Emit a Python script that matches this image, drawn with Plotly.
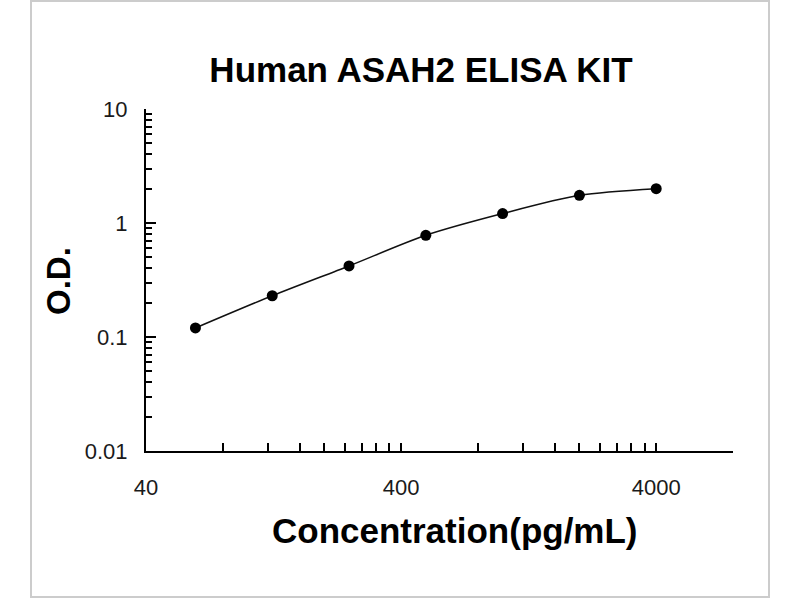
import plotly.graph_objects as go

# Data
concentration = [62.5, 125, 250, 500, 1000, 2000, 4000]
od_values = [0.12, 0.23, 0.42, 0.78, 1.21, 1.75, 2.0]

x_major_ticks = [40, 400, 4000]
x_major_labels = ["40", "400", "4000"]
x_minor_ticks = [80, 120, 160, 200, 240, 280, 320, 360,
                 800, 1200, 1600, 2000, 2400, 2800, 3200, 3600, 8000]
y_major_ticks = [0.01, 0.1, 1, 10]
y_major_labels = ["0.01", "0.1", "1", "10"]
y_minor_ticks = [m * d for d in (0.01, 0.1, 1) for m in range(2, 10)]

title_text = "Human ASAH2 ELISA KIT"
x_title = "Concentration(pg/mL)"
y_title = "O.D."

W, H = 800, 600
L, R, T, B = 146, 67, 109, 149
pw, ph = W - L - R, H - T - B


def px_x(p):
    return (p - L) / pw


def px_y(p):
    return (H - B - p) / ph


FONT = "Liberation Sans, Arial, sans-serif"

fig = go.Figure()
fig.add_trace(go.Scatter(
    x=concentration, y=od_values, mode="lines+markers",
    line=dict(color="#111111", width=1.5, shape="spline", smoothing=0.8),
    marker=dict(color="black", size=11),
    showlegend=False,
))

tick_font = dict(family=FONT, size=22, color="#1a1a1a")

fig.update_layout(
    width=W, height=H,
    margin=dict(l=L, r=R, t=T, b=B),
    paper_bgcolor="white", plot_bgcolor="white",
    title=dict(text=title_text, x=421 / W, xref="container", xanchor="center",
               y=1 - 70 / H, yref="container", yanchor="middle",
               font=dict(family=FONT, size=35, color="black", weight="bold")),
    xaxis=dict(type="log", range=[1.60206, 3.90309],
               tickmode="array", tickvals=x_major_ticks, ticktext=x_major_labels,
               ticks="inside", ticklen=8, tickwidth=2, tickcolor="black",
               showline=True, linecolor="black", linewidth=2,
               showgrid=False, zeroline=False, tickfont=tick_font,
               ticklabelstandoff=16,
               minor=dict(tickmode="array", tickvals=x_minor_ticks, ticks="inside",
                          ticklen=8, tickwidth=2, tickcolor="black", showgrid=False)),
    yaxis=dict(type="log", range=[-2, 1],
               tickmode="array", tickvals=y_major_ticks, ticktext=y_major_labels,
               ticks="inside", ticklen=10, tickwidth=2, tickcolor="black",
               showline=True, linecolor="black", linewidth=2,
               showgrid=False, zeroline=False, tickfont=tick_font,
               ticklabelstandoff=12,
               minor=dict(tickmode="array", tickvals=y_minor_ticks, ticks="inside",
                          ticklen=6, tickwidth=2, tickcolor="black", showgrid=False)),
    shapes=[dict(type="rect", xref="paper", yref="paper",
                 x0=px_x(31), x1=px_x(769), y0=px_y(597), y1=px_y(1),
                 line=dict(color="#cccccc", width=2), fillcolor="rgba(0,0,0,0)", layer="below")],
    annotations=[
        dict(text=x_title, xref="paper", yref="paper", x=px_x(455), y=px_y(530),
             xanchor="center", yanchor="middle", showarrow=False,
             font=dict(family=FONT, size=35, color="black", weight="bold")),
        dict(text=y_title, xref="paper", yref="paper", x=px_x(58), y=px_y(281),
             xanchor="center", yanchor="middle", showarrow=False, textangle=-90,
             font=dict(family=FONT, size=33, color="black", weight="bold")),
    ],
)

fig.write_html("out.html", config={"displayModeBar": False},
               post_script="document.body.style.margin='0px';")
